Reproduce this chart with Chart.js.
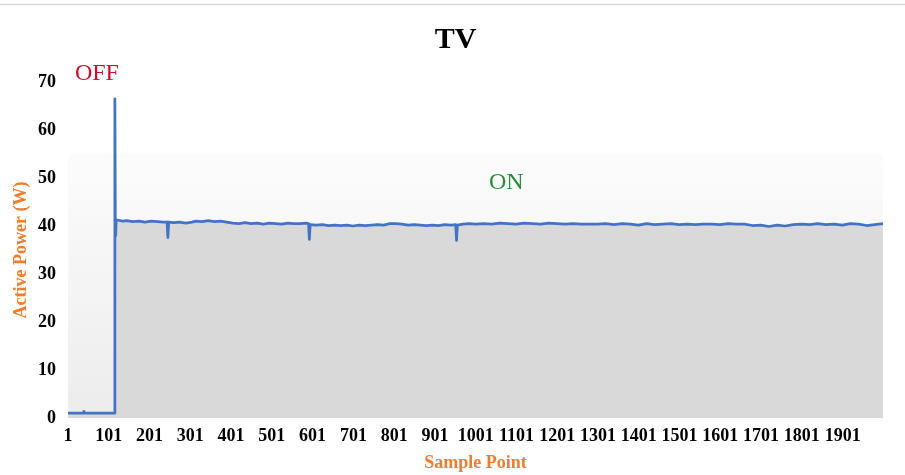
<!DOCTYPE html>
<html>
<head>
<meta charset="utf-8">
<script src="https://cdn.jsdelivr.net/npm/chart.js@4.4.1/dist/chart.umd.min.js"></script>
<style>
  html, body { margin: 0; padding: 0; background: #ffffff; }
  #wrap { width: 905px; height: 475px; position: relative; }
</style>
</head>
<body>
<div id="wrap"><canvas id="c" width="905" height="475"></canvas></div>
<script>
// ---- data ----
const chartTitle = 'TV';
const xAxisTitle = 'Sample Point';
const yAxisTitle = 'Active Power (W)';
const xTickLabels = [1, 101, 201, 301, 401, 501, 601, 701, 801, 901, 1001, 1101, 1201, 1301, 1401, 1501, 1601, 1701, 1801, 1901];
const yTickValues = [0, 10, 20, 30, 40, 50, 60, 70];

const sampleIdx = [
  1, 20, 38, 40, 42, 60, 80, 100, 115, 116, 117, 118, 119,
  125, 135, 145, 160, 175, 190, 205, 220, 235, 244, 246, 248,
  260, 275, 290, 305, 315, 330, 345, 360, 375, 390, 405, 420,
  435, 450, 465, 480, 495, 510, 525, 540, 555, 570, 585, 591,
  593, 595, 610, 625, 640, 655, 670, 685, 700, 715, 730, 745,
  760, 775, 790, 805, 820, 835, 850, 865, 880, 895, 910, 925,
  940, 952, 954, 956, 970, 985, 1000, 1020, 1040, 1060, 1080, 1100,
  1120, 1140, 1160, 1180, 1200, 1220, 1240, 1260, 1280, 1300, 1320, 1340,
  1360, 1380, 1400, 1420, 1440, 1460, 1480, 1500, 1520, 1540, 1560, 1580,
  1600, 1620, 1640, 1660, 1680, 1700, 1720, 1740, 1760, 1780, 1800, 1820,
  1840, 1860, 1880, 1900, 1920, 1940, 1960, 1980, 2000
];
const activePower = [
  1.0, 1.0, 1.0, 1.4, 1.0, 1.0, 1.0, 1.0, 1.0, 66.5, 41.2, 38.0, 41.3,
  41.2, 41.0, 41.1, 40.9, 41.0, 40.8, 41.0, 40.9, 40.8, 40.8, 37.6, 40.8,
  40.7, 40.8, 40.6, 40.8, 41.0, 40.9, 41.1, 40.9, 41.0, 40.8, 40.6, 40.5,
  40.7, 40.5, 40.6, 40.4, 40.6, 40.5, 40.4, 40.6, 40.5, 40.5, 40.6, 40.5,
  37.2, 40.3, 40.2, 40.3, 40.1, 40.2, 40.1, 40.2, 40.0, 40.2, 40.1, 40.2,
  40.3, 40.2, 40.5, 40.5, 40.4, 40.2, 40.3, 40.2, 40.1, 40.2, 40.1, 40.3,
  40.2, 40.3, 37.0, 40.2, 40.4, 40.5, 40.4, 40.5, 40.4, 40.6, 40.5, 40.4,
  40.6, 40.5, 40.4, 40.6, 40.5, 40.4, 40.5, 40.4, 40.4, 40.4, 40.5, 40.3,
  40.5, 40.4, 40.2, 40.5, 40.3, 40.4, 40.5, 40.3, 40.4, 40.3, 40.4, 40.4,
  40.3, 40.5, 40.4, 40.4, 40.1, 40.2, 39.9, 40.2, 40.0, 40.3, 40.4, 40.3,
  40.5, 40.3, 40.4, 40.2, 40.5, 40.4, 40.1, 40.3, 40.5
];

const annotations = [
  { text: 'OFF', x: 72, y: 71.7, color: '#c8102e' },
  { text: 'ON', x: 1076, y: 49, color: '#2e8b3e' }
];

// ---- chart ----
const points = sampleIdx.map((s, i) => ({ x: s, y: activePower[i] }));
const serif = "'Liberation Serif', 'Times New Roman', serif";

const backgroundPlugin = {
  id: 'bg',
  beforeDraw(chart) {
    const { ctx, chartArea, scales } = chart;
    ctx.save();
    ctx.fillStyle = '#ffffff';
    ctx.fillRect(0, 0, chart.width, chart.height);
    ctx.strokeStyle = '#d9d9d9';
    ctx.lineWidth = 1.5;
    ctx.beginPath();
    ctx.moveTo(0, 4.5);
    ctx.lineTo(chart.width, 4.5);
    ctx.stroke();
    const top = scales.y.getPixelForValue(55);
    const g = ctx.createLinearGradient(0, top, 0, chartArea.bottom);
    g.addColorStop(0, '#fcfcfc');
    g.addColorStop(1, '#ececec');
    ctx.fillStyle = g;
    ctx.fillRect(chartArea.left, top, chartArea.right - chartArea.left, chartArea.bottom - top);
    ctx.restore();
  }
};

const textPlugin = {
  id: 'texts',
  afterDraw(chart) {
    const { ctx, scales } = chart;
    ctx.save();
    ctx.textAlign = 'center';
    ctx.textBaseline = 'middle';
    // chart title
    ctx.fillStyle = '#000000';
    ctx.font = 'bold 30px ' + serif;
    ctx.fillText(chartTitle, chart.width / 2 + 3, 40);
    // OFF / ON notes
    ctx.font = '24px ' + serif;
    annotations.forEach(a => {
      ctx.fillStyle = a.color;
      ctx.fillText(a.text, scales.x.getPixelForValue(a.x), scales.y.getPixelForValue(a.y));
    });
    ctx.restore();
  }
};

new Chart(document.getElementById('c'), {
  type: 'line',
  data: {
    datasets: [{
      data: points,
      borderColor: '#4472c4',
      borderWidth: 2.75,
      borderJoinStyle: 'round',
      backgroundColor: '#d9d9d9',
      fill: 'origin',
      pointRadius: 0,
      tension: 0
    }]
  },
  options: {
    responsive: false,
    animation: false,
    events: [],
    layout: { padding: { left: 0, right: 22, top: 82, bottom: 0 } },
    plugins: {
      legend: { display: false },
      tooltip: { enabled: false },
      title: { display: false }
    },
    scales: {
      x: {
        type: 'linear',
        min: 1,
        max: 2000,
        grid: { display: false, drawTicks: false },
        border: { display: false },
        afterBuildTicks(scale) { scale.ticks = xTickLabels.map(v => ({ value: v })); },
        afterFit(scale) { scale.height = 57; },
        ticks: {
          autoSkip: false,
          maxRotation: 0,
          padding: 8,
          color: '#000000',
          font: { family: serif, size: 18, weight: 'bold' },
          callback: v => String(v)
        },
        title: {
          display: true,
          text: xAxisTitle,
          color: '#ed7d31',
          font: { family: serif, size: 18, weight: 'bold', lineHeight: 1.2 },
          padding: { top: 0, bottom: 1 }
        }
      },
      y: {
        min: 0,
        max: 70,
        grid: { display: false, drawTicks: false },
        border: { display: false },
        afterBuildTicks(scale) { scale.ticks = yTickValues.map(v => ({ value: v })); },
        afterFit(scale) { scale.width = 68; },
        ticks: {
          padding: 12,
          color: '#000000',
          font: { family: serif, size: 18, weight: 'bold' }
        },
        title: {
          display: true,
          text: yAxisTitle,
          color: '#ed7d31',
          font: { family: serif, size: 18, weight: 'bold', lineHeight: 1.2 },
          padding: { top: 11, bottom: 0 }
        }
      }
    }
  },
  plugins: [backgroundPlugin, textPlugin]
});
</script>
</body>
</html>
